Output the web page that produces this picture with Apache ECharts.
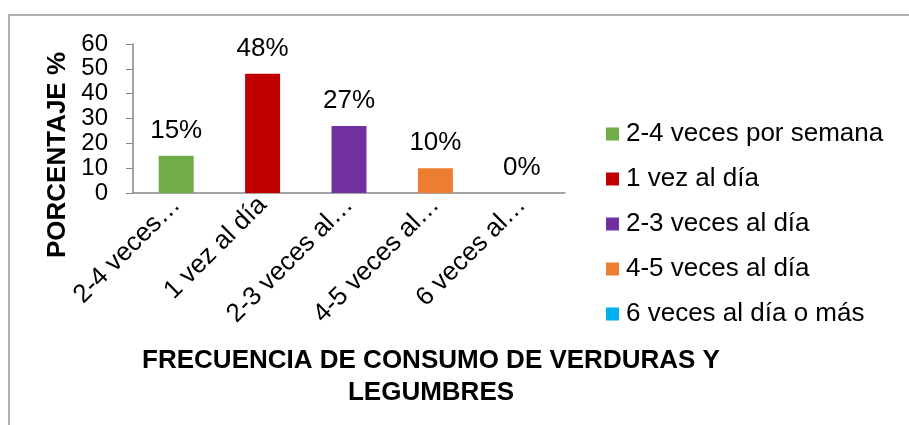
<!DOCTYPE html>
<html lang="es">

<head>
  <meta charset="UTF-8">
  <title>Frecuencia de consumo</title>
  <style>
    body { margin: 0; background: #fff; }
    .frame {
      position: absolute; left: 8px; top: 14px; width: 920px; height: 440px;
      border: 2px solid #b0b0b0;
    }
    #chart { position: absolute; left: 0; top: 0; width: 909px; height: 425px; }
  </style>
</head>

<body>
  <div class="frame"></div>
  <div id="chart"></div>
</body>

</html>
<script src="https://cdn.jsdelivr.net/npm/echarts@6/dist/echarts.min.js"></script>
<script>
  // datos
  const categorias = ['2-4 veces…', '1 vez al día', '2-3 veces al…', '4-5 veces al…', '6 veces al…'];
  const nombres = ['2-4 veces por semana', '1 vez al día', '2-3 veces al día', '4-5 veces al día', '6 veces al día o más'];
  const valores = [15, 48, 27, 10, 0];
  const colores = ['#70AD47', '#C00000', '#7030A0', '#ED7D31', '#00B0F0'];
  const yTicks = { min: 0, max: 60, interval: 10 };

  const fuente = 'Arial, "Liberation Sans", sans-serif';

  let chart = echarts.init(document.getElementById('chart'));

  // una serie por categoría para que salga en la leyenda
  let series = nombres.map(function (nombre, i) {
    return {
      name: nombre,
      type: 'bar',
      stack: 'total',
      barWidth: 35,
      itemStyle: { color: colores[i] },
      label: {
        show: true,
        position: 'top',
        distance: 12,
        formatter: '{c}%',
        color: '#000',
        fontFamily: fuente,
        fontSize: 26
      },
      data: valores.map(function (v, j) { return j === i ? v : '-'; })
    };
  });

  let option = {
    animation: false,
    grid: { left: 133, top: 44, right: 344, bottom: 232 },
    legend: {
      orient: 'vertical',
      left: 606,
      top: 121,
      padding: 0,
      itemWidth: 13,
      itemHeight: 13,
      itemGap: 19,
      icon: 'rect',
      textStyle: { color: '#000', fontFamily: fuente, fontSize: 26, lineHeight: 26, padding: [0, 0, 0, 2] },
      data: nombres
    },
    xAxis: {
      type: 'category',
      data: categorias,
      axisLine: { lineStyle: { color: '#868686', width: 1.5 } },
      axisTick: { show: false },
      axisLabel: {
        rotate: 45,
        interval: 0,
        margin: 8,
        color: '#000',
        fontFamily: fuente,
        fontSize: 26
      }
    },
    yAxis: {
      type: 'value',
      min: yTicks.min,
      max: yTicks.max,
      interval: yTicks.interval,
      splitLine: { show: false },
      axisLine: { show: true, lineStyle: { color: '#868686', width: 1.5 } },
      axisTick: { show: true, length: 7, lineStyle: { color: '#868686' } },
      axisLabel: {
        margin: 25,
        hideOverlap: false,
        showMinLabel: true,
        showMaxLabel: true,
        color: '#000',
        fontFamily: fuente,
        fontSize: 24
      }
    },
    graphic: [
      {
        type: 'text',
        x: 58,
        y: 155,
        rotation: Math.PI / 2,
        style: {
          text: 'PORCENTAJE %',
          fill: '#000',
          font: 'bold 26px ' + fuente,
          align: 'center',
          verticalAlign: 'middle'
        }
      },
      {
        type: 'text',
        x: 431,
        y: 345,
        style: {
          text: 'FRECUENCIA DE CONSUMO DE VERDURAS Y\nLEGUMBRES',
          fill: '#000',
          font: 'bold 26px ' + fuente,
          align: 'center',
          lineHeight: 32
        }
      }
    ],
    series: series
  };
  chart.setOption(option);
</script>
